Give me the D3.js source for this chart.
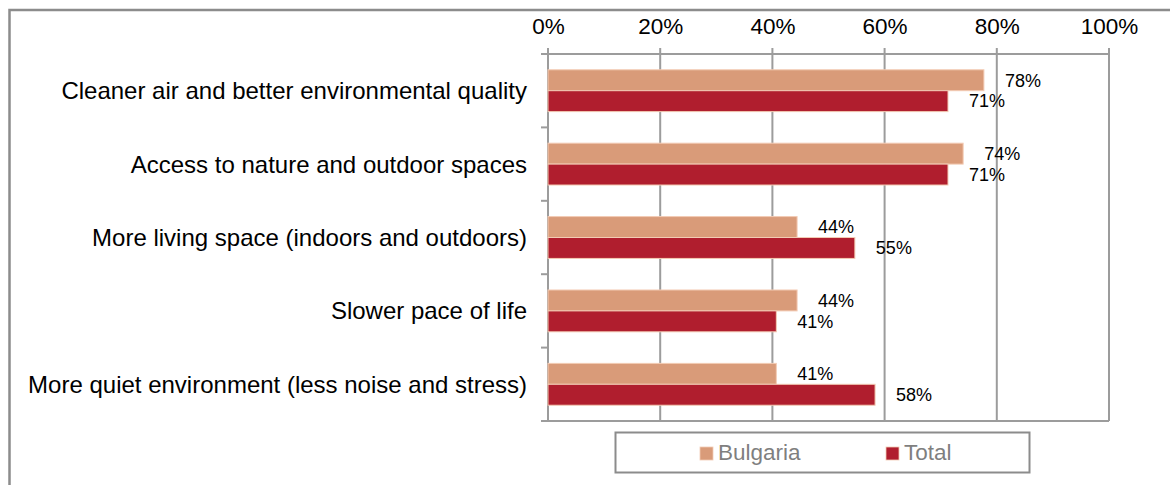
<!DOCTYPE html>
<html>
<head>
<meta charset="utf-8">
<script src="https://cdn.jsdelivr.net/npm/d3@7"></script>
<style>
  body { margin: 0; background: #fff; }
  text { font-family: "Liberation Sans", Arial, sans-serif; }
</style>
</head>
<body>
<svg id="chart"></svg>
<script>
// data
const categories = [
    'Cleaner air and better environmental quality',
    'Access to nature and outdoor spaces',
    'More living space (indoors and outdoors)',
    'Slower pace of life',
    'More quiet environment (less noise and stress)'
];
const seriesNames = ['Bulgaria', 'Total'];
const bulgaria = [0.777, 0.740, 0.444, 0.444, 0.407];
const total = [0.713, 0.713, 0.547, 0.407, 0.583];
const tickValues = [0, 0.2, 0.4, 0.6, 0.8, 1];

const colors = { Bulgaria: '#d99b79', Total: '#b01e2e' };

const width = 1170;
const height = 485;
const plot = { left: 548, right: 1109, top: 54, bottom: 421 };

const svg = d3.select('#chart')
    .attr('width', width)
    .attr('height', height);

// outer frame (cut off at the right and bottom)
svg.append('rect')
    .attr('x', 9.5).attr('y', 10)
    .attr('width', 1300).attr('height', 600)
    .attr('fill', 'none')
    .attr('stroke', '#8c8c8c')
    .attr('stroke-width', 2.5);

const x = d3.scaleLinear().domain([0, 1]).range([plot.left, plot.right]);

const y = d3.scaleBand()
    .domain(categories)
    .range([plot.top, plot.bottom])
    .paddingInner(0.43)
    .paddingOuter(0.215);

const ySub = d3.scaleBand()
    .domain(seriesNames)
    .range([0, y.bandwidth()]);

// grid lines
svg.append('g')
    .selectAll('line')
    .data(tickValues)
    .join('line')
    .attr('x1', d => x(d)).attr('x2', d => x(d))
    .attr('y1', plot.top - 6).attr('y2', plot.bottom)
    .attr('stroke', '#9c9c9c')
    .attr('stroke-width', 2);

// top axis
const xAxis = svg.append('g')
    .attr('transform', `translate(0,${plot.top})`)
    .call(d3.axisTop(x)
        .tickValues(tickValues)
        .tickFormat(d3.format('.0%'))
        .tickSize(0)
        .tickSizeOuter(0)
        .tickPadding(20));
xAxis.select('.domain').remove();
xAxis.selectAll('text')
    .attr('font-size', 22.5)
    .attr('fill', '#000')
    .style('font-family', '"Liberation Sans", Arial, sans-serif');

// horizontal axis lines at top and bottom of the plot
svg.append('g')
    .selectAll('line')
    .data([plot.top, plot.bottom])
    .join('line')
    .attr('x1', plot.left - 7).attr('x2', plot.right)
    .attr('y1', d => d).attr('y2', d => d)
    .attr('stroke', '#9c9c9c')
    .attr('stroke-width', 2);

// left axis with ticks on the category boundaries
const boundaries = categories.map(c => y(c) - y.step() * y.paddingInner() / 2)
    .concat([plot.bottom]);
svg.append('line')
    .attr('x1', plot.left).attr('x2', plot.left)
    .attr('y1', plot.top).attr('y2', plot.bottom)
    .attr('stroke', '#9c9c9c')
    .attr('stroke-width', 2);
svg.append('g')
    .selectAll('line')
    .data(boundaries)
    .join('line')
    .attr('x1', plot.left - 7).attr('x2', plot.left)
    .attr('y1', d => d).attr('y2', d => d)
    .attr('stroke', '#9c9c9c')
    .attr('stroke-width', 2);

// category labels
svg.append('g')
    .selectAll('text')
    .data(categories)
    .join('text')
    .attr('x', plot.left - 21)
    .attr('y', d => y(d) + y.bandwidth() / 2)
    .attr('dy', '0.35em')
    .attr('text-anchor', 'end')
    .attr('font-size', 24)
    .attr('fill', '#000')
    .text(d => d);

// bars
const rows = categories.map((c, i) => ({
    category: c,
    values: [
        { series: 'Bulgaria', value: bulgaria[i] },
        { series: 'Total', value: total[i] }
    ]
}));

const group = svg.append('g')
    .selectAll('g')
    .data(rows)
    .join('g')
    .attr('transform', d => `translate(0,${y(d.category)})`);

group.selectAll('rect')
    .data(d => d.values)
    .join('rect')
    .attr('x', x(0))
    .attr('y', d => ySub(d.series))
    .attr('width', d => x(d.value) - x(0))
    .attr('height', ySub.bandwidth())
    .attr('fill', d => colors[d.series])
    .attr('stroke', '#f3cbb4')
    .attr('stroke-width', 1);

group.selectAll('text')
    .data(d => d.values)
    .join('text')
    .attr('x', d => x(d.value) + 21)
    .attr('y', d => ySub(d.series) + ySub.bandwidth() / 2)
    .attr('dy', '0.35em')
    .attr('font-size', 18)
    .attr('fill', '#000')
    .text(d => d3.format('.0%')(d.value));

// legend
const legend = svg.append('g');
legend.append('rect')
    .attr('x', 615.5).attr('y', 432.5)
    .attr('width', 414).attr('height', 40)
    .attr('fill', 'none')
    .attr('stroke', '#8c8c8c')
    .attr('stroke-width', 2);

const legendX = { Bulgaria: 700, Total: 886 };
const item = legend.selectAll('g.item')
    .data(seriesNames)
    .join('g')
    .attr('class', 'item')
    .attr('transform', d => `translate(${legendX[d]},447)`);
item.append('rect')
    .attr('width', 13).attr('height', 13)
    .attr('fill', d => colors[d])
    .attr('stroke', '#f3cbb4')
    .attr('stroke-width', 0.8);
item.append('text')
    .attr('x', 18)
    .attr('y', 12.5)
    .attr('font-size', 22.5)
    .attr('fill', '#7f7f7f')
    .text(d => d);
</script>
</body>
</html>
